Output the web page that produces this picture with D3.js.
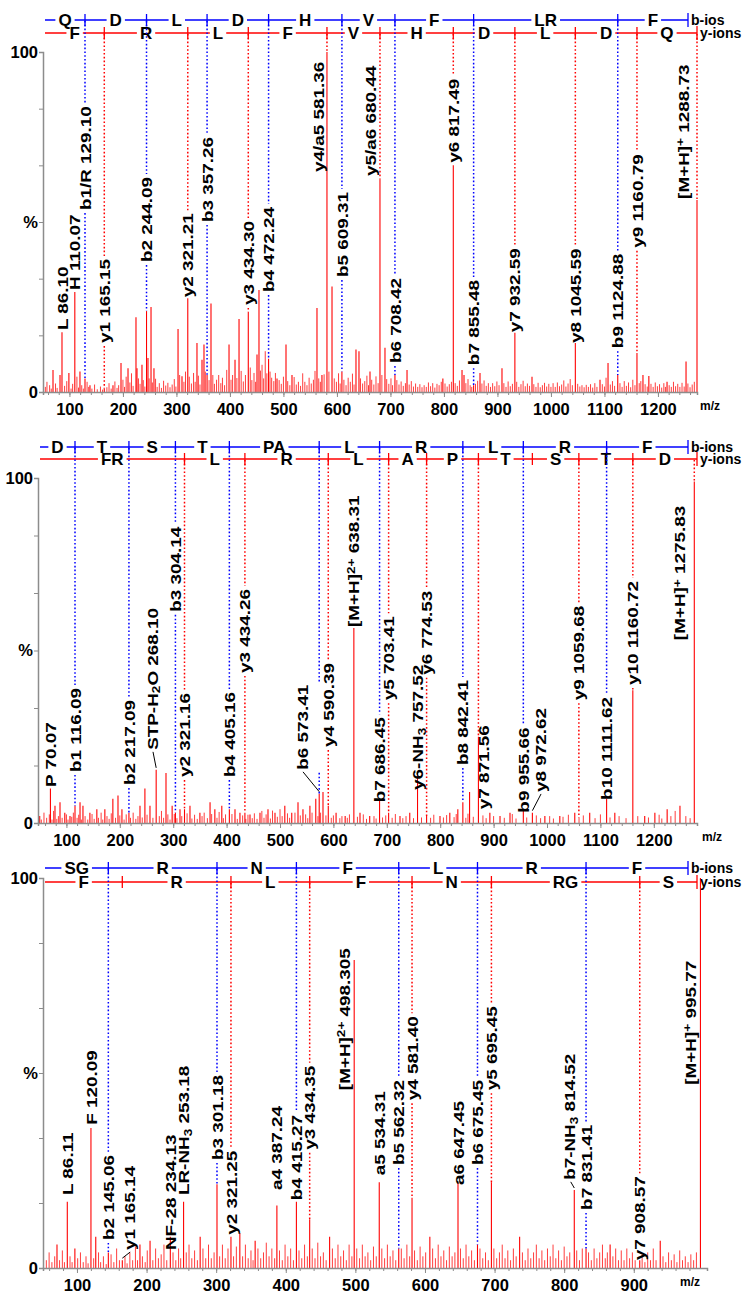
<!DOCTYPE html>
<html><head><meta charset="utf-8">
<script src="https://cdn.jsdelivr.net/npm/d3@7"></script>
<style>body{margin:0;background:#fff}svg{display:block}</style>
</head><body><svg id="c" width="750" height="1295"></svg>
<script>
// ---------------- DATA ----------------
// Panel 1 : QDLDHVFLRF
const p1Major = [[69.3,6.5],[82.4,5],[86.10,17.6],[99,5.6],[110.07,29.4],[119.7,6],[129.10,4],[138.4,2],[165.15,1],[181.4,2],[196.4,8.5],[209.5,7],[224.4,22],[226.3,7],[235.6,8],[244.09,23.8],[246.8,10],[252.5,25],[258,7],[303,18.5],[310.4,4.6],[321.21,27.6],[338.4,14.4],[347.8,9.5],[351.5,14],[357.26,5],[364.6,26],[398.3,14],[409.5,9.5],[417,21.5],[434.30,23.5],[450.6,11],[454.3,30],[472.24,9.8],[488,4],[504.8,14],[516,5],[562.7,24.7],[572,5],[581.36,100],[590.8,31],[609.31,6],[635.6,12.5],[641.2,12],[661.8,6],[680.44,62.6],[689.8,13],[708.42,5],[731,6.5],[798,4],[817.49,66.7],[833.8,6.5],[837.5,5],[855.48,2],[867.4,5.6],[908.5,7],[932.59,17.4],[964.6,4.5],[1045.59,14.4],[1091.7,3.6],[1106.7,8.5],[1124.88,5],[1160.79,11.5],[1172,5],[1183,4.7],[1217,3],[1252.5,9],[1288.73,56.5]];
const p1Minor = [[55,1.5],[58,3],[63,2],[66,1],[74,2.5],[77,1.2],[91,1.8],[95,3.2],[103,1],[106,2.4],[114,4.5],[117,1.3],[123,2],[126,1],[133,3],[136,1.5],[142,1],[147,2.2],[152,0.8],[158,1.6],[162,0.7],[170,1.4],[174,2.6],[178,1],[185,3.1],[189,1.2],[192,2],[200,3.6],[203,1.5],[206,4.5],[213,2.8],[216,5.5],[219,1.8],[229,4],[232,2.4],[238,3.5],[241,1.6],[249,4],[255,2.8],[261,3.9],[264,1.5],[268,2.6],[272,1.2],[276,3.3],[280,1.9],[284,2.7],[288,1.4],[292,2.2],[296,3.8],[299,1.6],[306,5],[314,3],[317,6],[324,4.5],[328,2.5],[332,5.6],[335,3],[341,4.8],[344,2.2],[354,6],[361,3.5],[368,5],[371,2.4],[375,3.6],[379,5],[383,2.6],[386,4.2],[390,2],[394,6.5],[402,3.6],[405,5],[413,4.1],[421,6.2],[425,3.1],[429,5],[438,7.2],[441,3.5],[445,5.6],[448,3],[457,6.3],[460,8],[463,4],[466,12],[469,5.5],[475,6],[478,4.2],[482,3.2],[485,5.6],[492,3.5],[496,2.4],[500,4.5],[508,3.2],[512,2],[520,4.4],[524,2.2],[528,3],[532,1.8],[536,5.5],[540,3],[544,2],[548,4.2],[552,2.5],[556,3.6],[559,6.2],[566,4],[569,3],[576,5.2],[585,6],[595,4],[599,3],[603,5.5],[606,2.5],[613,3.6],[617,2],[621,4.2],[625,3],[629,5.4],[632,2.2],[644,4],[648,2.5],[652,3.2],[656,4.8],[659,2],[665,3.6],[669,2.2],[673,4.6],[677,2.6],[684,5],[693,3.8],[697,2.4],[701,4],[704,2],[712,3.5],[716,2.2],[720,3.1],[724,1.8],[728,2.6],[735,2.2],[739,3.2],[743,1.6],[747,2.5],[751,1.5],[755,2.3],[759,1.4],[763,2],[767,1.5],[771,2.8],[775,1.7],[779,2.6],[783,1.3],[787,2.4],[791,2],[795,3],[802,2.5],[806,1.6],[810,2.3],[814,3],[821,2.6],[825,1.8],[829,3.4],[841,2.6],[845,3.8],[849,2],[852,1.5],[859,2.4],[863,3.3],[871,2.5],[875,3.4],[879,1.8],[883,2.6],[887,1.5],[891,2.6],[895,1.7],[899,3.1],[903,2],[912,2.6],[916,1.5],[920,3.1],[924,1.7],[928,2.4],[936,3],[940,1.5],[944,2.3],[948,3.3],[952,1.7],[956,2.5],[960,1.8],[968,2.3],[972,1.5],[976,2.7],[980,1.4],[984,2],[988,2.7],[992,1.6],[996,2.4],[1000,1.5],[1004,2.6],[1008,1.5],[1012,2.8],[1016,1.7],[1020,2.2],[1024,3.4],[1028,1.6],[1032,2.5],[1036,3.8],[1040,2],[1050,2.4],[1054,1.6],[1058,2],[1062,1.4],[1066,2.1],[1070,1.5],[1074,2.3],[1078,1.3],[1082,2.6],[1086,1.5],[1096,2.3],[1100,1.6],[1103,4.2],[1111,2.2],[1115,3.2],[1119,1.8],[1129,2.6],[1133,1.5],[1137,3.2],[1141,1.8],[1145,2.8],[1149,1.4],[1153,3.6],[1157,2],[1165,2.6],[1168,3.2],[1176,2.3],[1180,1.6],[1187,2.4],[1191,1.5],[1195,2.8],[1199,1.7],[1203,2.3],[1207,1.3],[1211,2.6],[1214,1.5],[1221,2],[1225,1.5],[1229,3],[1233,1.7],[1237,2.4],[1241,1.5],[1245,2.7],[1249,1.6],[1256,2.5],[1260,1.4],[1264,2.2],[1268,3]];
// labels: [mz, text, ion, base(% where text starts), labelMz (optional), leader]
const p1Labels = [
 [86.10,"L 86.10","",18.2],[110.07,"H 110.07","",30],[129.10,"b1/R 129.10","b",53.5],[165.15,"y1 165.15","y",14.4],
 [244.09,"b2 244.09","b",38.2],[321.21,"y2 321.21","y",27.9],[357.26,"b3 357.26","b",50],[434.30,"y3 434.30","y",25.6],
 [472.24,"b4 472.24","b",29.4],[581.36,"y4/a5 581.36","y",64.7,564.6],[609.31,"b5 609.31","b",33.8],[680.44,"y5/a6 680.44","y",63.5,661.8],
 [708.42,"b6 708.42","b",8.5],[817.49,"y6 817.49","y",67.4],[855.48,"b7 855.48","b",7.9],[932.59,"y7 932.59","y",17.6],
 [1045.59,"y8 1045.59","y",14.4],[1124.88,"b9 1124.88","b",12.9],[1160.79,"y9 1160.79","y",42.4],[1288.73,"[M+H]^{+} 1288.73","y",56.8,1246.8]];
const p1BIons = [129.10,244.09,357.26,472.24,609.31,708.42,855.48,1124.88];
const p1BRes = ["Q","D","L","D","H","V","F","LR","F"];
const p1YIons = [165.15,321.21,434.30,581.36,680.44,817.49,932.59,1045.59,1160.79];
const p1YRes = ["F","R","L","F","V","H","D","L","D","Q"];
const p1Ticks = [100,200,300,400,500,600,700,800,900,1000,1100,1200];

// Panel 2 : DTSTPALRLRF
const p2Major = [[50,2],[70.07,10],[78.6,5],[88,6],[97,3],[106.7,2],[116.09,5],[125.5,6],[131,5],[144,3],[157,4],[172,4],[187,7],[196.6,8],[204,4],[217.09,3],[237.8,5],[247,10],[256.5,5],[268.10,15.4],[286.5,14.5],[298,5],[304.14,3],[312.7,4],[321.16,4],[331.4,5],[350,3],[369,6],[378,4],[391,5],[405.16,4],[415.7,4],[425,3],[434.26,3],[443.8,2.5],[462.5,3],[477.5,4],[490.6,3],[509,5],[522,3],[533.7,6],[543,4],[556,5],[567,7],[573.41,8.5],[580.5,9],[590.39,5],[605,3],[622,2],[638.31,56.5],[649.8,3],[668,2],[686.45,7],[703.41,3],[724.7,2],[743,3],[757.52,15],[774.53,2],[799.6,2],[818,3],[833,4],[842.41,6],[855,9],[871.56,25],[893,3],[912,2],[930.7,3],[955.66,4],[972.62,3],[996,2],[1024,2],[1052,3],[1080,3],[1111.62,7],[1127,3],[1160.72,38.5],[1183,2],[1202,3],[1225,4],[1249,5],[1275.83,99]];
const p2Minor = [[53,1],[58,3],[63,1.5],[68,2.5],[73,1],[76,3.5],[82,1.2],[85,2],[92,1.5],[100,2.5],[103,1],[110,1.8],[113,3],[120,1.5],[123,2.4],[128,1],[135,2],[140,1],[148,2.6],[152,1.2],[160,1.5],[165,3],[168,1],[176,2],[180,1.2],[184,2.8],[192,1.5],[200,2.2],[208,1],[212,2.5],[220,1.5],[225,3],[230,1.2],[234,2],[242,1.6],[251,2.4],[262,1.5],[274,2],[278,3.5],[282,1.5],[290,2.5],[294,1],[302,2.6],[307,1.4],[316,2],[326,2.8],[335,1.3],[340,2.4],[345,1.2],[354,2],[358,3],[364,1.4],[372,2.6],[382,1.5],[386,3.2],[394,1.4],[398,2.5],[410,2.6],[420,1.2],[430,2.2],[436,1.2],[440,2.4],[448,1.4],[452,2.8],[457,1.2],[466,3.5],[470,1.5],[474,2.5],[482,1.3],[486,3.6],[495,1.8],[500,4],[504,2],[514,2.8],[518,1.5],[528,3],[538,2.2],[548,2.5],[552,1.4],[560,3],[571,2],[576,3],[586,2.2],[596,1.5],[600,2.2],[612,1.4],[616,2],[626,1.5],[630,2.5],[645,1.8],[656,2.5],[662,1.2],[676,2],[680,1.3],[692,1.6],[698,2.2],[710,1.5],[716,2.6],[730,1.4],[736,2],[750,1.4],[765,1.6],[782,1.5],[788,2.4],[806,1.6],[812,2.3],[826,1.7],[830,2.6],[848,1.5],[852,2.7],[862,1.8],[880,2.2],[886,1.4],[900,2],[920,1.5],[935,2.6],[942,1.3],[962,1.6],[980,2.2],[988,1.4],[1005,2],[1012,1.3],[1030,1.8],[1040,2.4],[1060,1.5],[1068,2.2],[1090,1.4],[1100,2.5],[1118,1.6],[1135,2],[1148,1.4],[1170,2],[1190,1.6],[1210,2.4],[1215,1.3],[1232,2],[1240,3.5],[1260,2],[1268,1.4]];
const p2Labels = [
 [70.07,"P 70.07","",10.4],[116.09,"b1 116.09","b",14.8],[217.09,"b2 217.09","b",11],[268.10,"STP-H_{2}O 268.10","",21.2,260.3,true],
 [304.14,"b3 304.14","b",61.2],[321.16,"y2 321.16","y",13.3],[405.16,"b4 405.16","b",13.3],[434.26,"y3 434.26","y",43.5],
 [573.41,"b6 573.41","b",15.4,541.2,true],[590.39,"y4 590.39","y",22],[638.31,"[M+H]^{2+} 638.31","",56.8],
 [686.45,"b7 686.45","b",6],[703.41,"y5 703.41","y",35.6],[757.52,"y6-NH_{3} 757.52","",9.6],[774.53,"y6 774.53","y",43],
 [842.41,"b8 842.41","b",16.8],[871.56,"y7 871.56","y",4,880],[955.66,"b9 955.66","b",3],[972.62,"y8 972.62","",9,987,true],
 [1059.68,"y9 1059.68","y",35.6],[1111.62,"b10 1111.62","b",6.7],[1160.72,"y10 1160.72","y",40],[1275.83,"[M+H]^{+} 1275.83","y",53,1248]];
const p2BIons = [116.09,217.09,304.14,405.16,573.41,686.45,842.41,955.66,1111.62];
const p2BRes = ["D","T","S","T","PA","L","R","L","R","F"];
const p2YIons = [321.16,434.26,590.39,703.41,774.53,871.56,972.62,1059.68,1160.72];
const p2YRes = ["FR","L","R","L","A","P","T","S","T","D"];
const p2Ticks = [100,200,300,400,500,600,700,800,900,1000,1100,1200];

// Panel 3 : SGRNFLRGF
const p3Major = [[71.3,6],[86.11,17],[97,5],[120.09,35.9],[127,8],[145.06,4],[165.14,2],[190.5,6],[205,7],[234.13,8],[253.18,17],[277,8],[301.18,21.5],[321.25,8],[334,9],[356,7],[387.24,16],[415.27,17],[434.35,12.5],[463,8],[498.305,79],[534.31,22],[562.32,5],[581.40,18],[607,8],[647.45,22],[675.45,6],[695.45,22],[736,8],[814.52,20],[831.41,5],[866,6],[908.57,2],[938,7],[995.77,100]];
const p3Minor = [[56,2],[60,4],[64,1.5],[68,3],[75,2],[79,4.5],[82,1.5],[90,3],[93,1.5],[101,2.5],[105,4],[109,1.5],[113,3],[116,1.2],[124,2.5],[131,4],[134,1.5],[138,3],[142,1],[149,3.5],[153,1.5],[157,5],[161,2],[169,3],[172,1.2],[176,4],[180,2],[184,5.5],[187,2],[194,3],[198,1.5],[201,4.5],[209,2],[213,5],[217,2.5],[221,3.5],[225,6],[229,2],[238,4],[242,2],[246,5],[249,2.5],[257,4],[261,6],[265,2.5],[269,4.5],[273,2],[281,5],[285,2.5],[289,6],[293,2.5],[297,4],[305,3],[309,6],[313,2.5],[317,5],[325,3],[329,5.5],[338,3],[342,6],[346,2.5],[350,4.5],[353,2],[360,5],[364,2.5],[368,4],[372,6.5],[376,3],[380,5],[384,2.5],[391,4.5],[395,2],[399,6],[403,3],[407,5],[411,2],[419,4.5],[423,2.5],[427,6],[431,3],[438,5],[442,2.5],[446,6.5],[450,3],[454,4],[458,2],[467,5],[471,2.5],[475,6],[479,3],[483,4.5],[487,2],[491,6],[495,3],[502,5],[506,2.5],[510,6],[514,3],[518,4],[522,2],[526,5.5],[530,3],[538,5],[542,2.5],[546,6],[550,3],[554,4.5],[558,2],[566,5],[570,2.5],[574,6],[578,3],[585,4.5],[589,2],[593,5.5],[597,3],[601,4],[611,5],[615,2.5],[619,6],[623,3],[627,4.5],[631,2],[635,5.5],[639,3],[643,4],[651,5],[655,2.5],[659,6],[663,3],[667,4.5],[671,2],[679,5],[683,2.5],[687,4],[691,2],[699,5],[703,2.5],[707,4],[711,6],[715,2.5],[719,4.5],[723,2],[727,5],[731,3],[740,4],[744,2],[748,5],[752,2.5],[756,4],[760,6],[764,2.5],[768,4.5],[772,2],[776,5],[780,3],[784,6],[788,2.5],[792,4.5],[796,2],[800,5.5],[804,3],[808,4],[818,4.5],[822,2],[826,5],[835,4],[839,2],[843,5],[847,2.5],[851,4],[855,6],[859,2.5],[862,4],[870,3],[874,5],[878,2],[882,4.5],[886,2],[890,5],[894,2.5],[898,4],[902,2],[912,3.5],[916,1.5],[920,4],[924,2],[928,5],[932,2],[942,3],[946,1.5],[950,4],[954,2],[958,3.5],[962,1.5],[966,4.5],[970,2],[974,3],[978,1.5],[982,3.5],[986,2],[990,4]];
const p3Labels = [
 [86.11,"L 86.11","",18.7],[120.09,"F 120.09","",36.7],[145.06,"b2 145.06","b",7.2],[165.14,"y1 165.14","",4.6,175,true],
 [234.13,"NF-28 234.13","",4.6],[253.18,"LR-NH_{3} 253.18","",18.7],[301.18,"b3 301.18","b",27.7],[321.25,"y2 321.25","y",8.5],
 [387.24,"a4 387.24","",20],[415.27,"b4 415.27","b",17.4],[434.35,"y3 434.35","y",30.3],[498.305,"[M+H]^{2+} 498.305","",45.6,484],
 [534.31,"a5 534.31","",23.8],[562.32,"b5 562.32","b",26.4],[581.40,"y4 581.40","y",43],[647.45,"a6 647.45","",21.3],
 [675.45,"b6 675.45","b",26.4],[695.45,"y5 695.45","y",45.6],[814.52,"b7-NH_{3} 814.52","",22.6,808,true],[831.41,"b7 831.41","b",14.9],
 [908.57,"y7 908.57","y",2],[995.77,"[M+H]^{+} 995.77","y",47,981]];
const p3BIons = [145.06,301.18,415.27,562.32,675.45,831.41];
const p3BRes = ["SG","R","N","F","L","R","F"];
const p3YIons = [165.14,321.25,434.35,581.40,695.45,908.57];
const p3YRes = ["F","R","L","F","N","RG","S"];
const p3Ticks = [100,200,300,400,500,600,700,800,900];

// ---------------- LAYOUT ----------------
const FONT = '"Liberation Sans", Arial, Helvetica, sans-serif';
const RED = "#ff0000", BLUE = "#0000ff", AX = "#8c8c8c";
const LSX = 1.22;            // label stretch
const panels = [
 {major:p1Major,minor:p1Minor,labels:p1Labels,bI:p1BIons,bR:p1BRes,yI:p1YIons,yR:p1YRes,ticks:p1Ticks,
  ax0:43,ax1:697,yTop:52,yBase:392,bY:20,yY:33,dom:[50.6,1273],bName:"b-ios",tickEnd:1270,mzX:700},
 {major:p2Major,minor:p2Minor,labels:p2Labels,bI:p2BIons,bR:p2BRes,yI:p2YIons,yR:p2YRes,ticks:p2Ticks,
  ax0:38,ax1:697,yTop:478,yBase:823,bY:447,yY:459,dom:[46.8,1280.9],bName:"b-ions",tickEnd:1278,mzX:702},
 {major:p3Major,minor:p3Minor,labels:p3Labels,bI:p3BIons,bR:p3BRes,yI:p3YIons,yR:p3YRes,ticks:p3Ticks,
  ax0:43,ax1:707,yTop:878,yBase:1268,bY:868,yY:882,dom:[51.2,1005.2],bName:"b-ions",tickEnd:1000,mzX:680}
];
const svg = d3.select("#c");

function rich(t, str){
  const re=/(_|\^)\{([^}]*)\}/g; let last=0,m;
  while((m=re.exec(str))){
    if(m.index>last) t.append("tspan").text(str.slice(last,m.index));
    t.append("tspan").attr("baseline-shift", m[1]==="_"?"-22%":"38%").attr("font-size","72%").text(m[2]);
    last=re.lastIndex;
  }
  if(last<str.length) t.append("tspan").text(str.slice(last));
}

panels.forEach(P=>{
  const x = d3.scaleLinear().domain(P.dom).range([P.ax0,P.ax1]).clamp(true);
  const y = d3.scaleLinear().domain([0,100]).range([P.yBase,P.yTop]);
  const g = svg.append("g");

  // peaks
  const all = P.minor.concat(P.major);
  g.append("g").selectAll("line").data(P.minor).join("line")
    .attr("x1",d=>x(d[0])).attr("x2",d=>x(d[0])).attr("y1",P.yBase).attr("y2",d=>y(d[1]))
    .attr("stroke",RED).attr("stroke-width",0.9).attr("stroke-opacity",0.85);
  g.append("g").selectAll("line").data(P.major).join("line")
    .attr("x1",d=>x(d[0])).attr("x2",d=>x(d[0])).attr("y1",P.yBase).attr("y2",d=>y(d[1]))
    .attr("stroke",RED).attr("stroke-width",1.1);

  // axes
  const xAxis = d3.axisBottom(x).tickValues(d3.range(60,P.tickEnd,20)).tickSize(3).tickFormat("");
  g.append("g").attr("transform",`translate(0,${P.yBase})`).call(xAxis)
    .call(s=>{s.select(".domain").attr("stroke",AX).attr("stroke-width",1.5);s.selectAll(".tick line").attr("stroke",AX);});
  const xMaj = d3.axisBottom(x).tickValues(P.ticks).tickSize(5).tickPadding(6).tickFormat(d3.format("d"));
  g.append("g").attr("transform",`translate(0,${P.yBase})`).call(xMaj)
    .call(s=>{s.select(".domain").remove();s.selectAll(".tick line").attr("stroke",AX);
      s.selectAll("text").attr("font-family",FONT).attr("font-size",16.5).attr("font-weight","bold").attr("fill","#000");});
  g.append("text").attr("x",P.mzX).attr("y",P.yBase+18).attr("font-family",FONT)
    .attr("font-size",12).attr("font-weight","bold").text("m/z");
  const yAxis = d3.axisLeft(y).tickValues(d3.range(0,100.1,100/6)).tickSize(4).tickFormat("");
  g.append("g").attr("transform",`translate(${P.ax0},0)`).call(yAxis)
    .call(s=>{s.select(".domain").attr("stroke",AX).attr("stroke-width",1.5);s.selectAll(".tick line").attr("stroke",AX);});
  [[100,"100"],[50,"%"],[0,"0"]].forEach(([v,t])=>{
    g.append("text").attr("x",P.ax0-5).attr("y",y(v)).attr("dy","0.36em").attr("text-anchor","end")
      .attr("font-family",FONT).attr("font-size",16.5).attr("font-weight","bold").text(t);
  });

  // header (sequence ladder)
  const HX0 = P.ax0+2, BEND = 688, YEND = 697;
  function ladder(ions, res, ly, col, endX, name){
    const pos = [HX0].concat(ions.map(m=>x(m))).concat([endX]);
    for(let i=0;i<res.length;i++){
      const a=pos[i], b=pos[i+1], mid=(a+b)/2;
      const t = g.append("text").attr("x",mid).attr("y",ly).attr("dy","0.36em").attr("text-anchor","middle")
        .attr("font-family",FONT).attr("font-size",17).attr("font-weight","bold").text(res[i]);
      const w = t.node().getComputedTextLength()/2+3;
      if(mid-w>a) g.append("line").attr("x1",a).attr("x2",mid-w).attr("y1",ly).attr("y2",ly).attr("stroke",col).attr("stroke-width",1.5);
      if(mid+w<b) g.append("line").attr("x1",mid+w).attr("x2",b).attr("y1",ly).attr("y2",ly).attr("stroke",col).attr("stroke-width",1.5);
    }
    pos.slice(1).forEach((p,i)=>{
      const h = i===pos.length-2 ? 7 : 6;
      g.append("line").attr("x1",p).attr("x2",p).attr("y1",ly-h).attr("y2",ly+h).attr("stroke",col).attr("stroke-width",1.3);
    });
    g.append("text").attr("x",endX+3).attr("y",ly).attr("dy","0.36em").attr("font-family",FONT)
      .attr("font-size",14).attr("font-weight","bold").text(name);
  }
  ladder(P.bI,P.bR,P.bY,BLUE,BEND,P.bName);
  ladder(P.yI,P.yR,P.yY,RED,YEND,"y-ions");

  // labels
  P.labels.forEach(L=>{
    const [mz,txt,ion,base,lmz,leader] = L;
    const pk = all.reduce((best,d)=>Math.abs(d[0]-mz)<Math.abs(best[0]-mz)?d:best, all[0]);
    const px = x(mz), ptop = y(pk[1]);
    const lx = lmz!==undefined ? x(lmz) : px;
    const ly = y(base);
    const lg = g.append("g").attr("transform",`translate(${lx},${ly}) rotate(-90) scale(${LSX},1)`);
    const t = lg.append("text").attr("dy","0.36em").attr("font-family",FONT).attr("font-size",15.5)
      .attr("font-weight","bold").attr("fill","#000");
    rich(t,txt);
    const len = t.node().getComputedTextLength()*LSX;
    if(ion){
      const col = ion==="b"?BLUE:RED, top = ion==="b"?P.bY:P.yY;
      const dl = (y1,y2)=>{ if(y2-y1>1) g.append("line").attr("x1",px).attr("x2",px).attr("y1",y1).attr("y2",y2)
        .attr("stroke",col).attr("stroke-width",1.5).attr("stroke-dasharray","1.6,2.2"); };
      if(lmz!==undefined && !leader){ dl(top+1, ptop); }
      else { dl(top+1, ly-len-3); dl(ly+3, ptop); }
    }
    if(leader){
      g.append("line").attr("x1",lx+1).attr("y1",ly+2).attr("x2",px).attr("y2",ptop-2)
        .attr("stroke","#000").attr("stroke-width",1);
    }
  });
});
</script></body></html>
